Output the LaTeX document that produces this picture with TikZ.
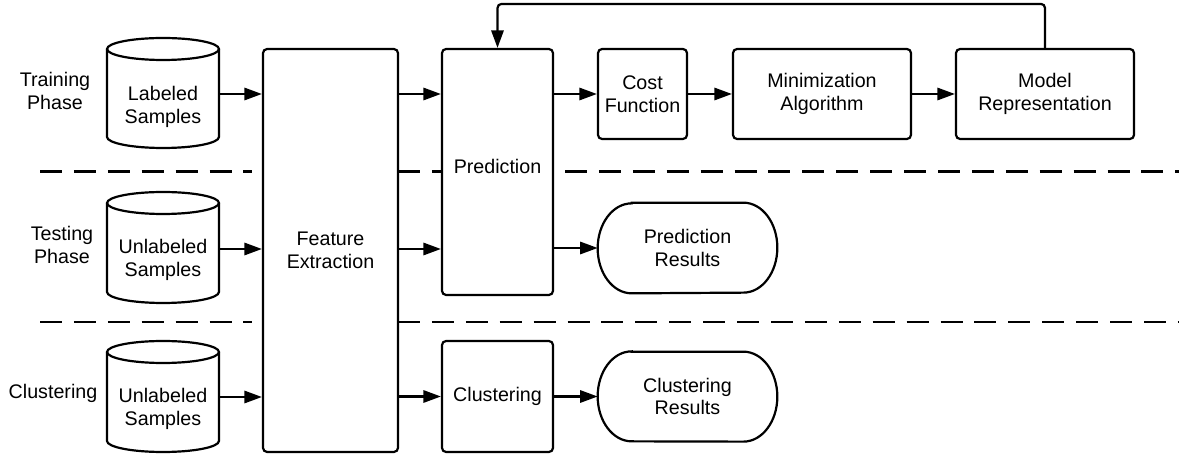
\documentclass[tikz,border=0pt]{standalone}
\usepackage{fontspec}
\setmainfont{Liberation Sans}
\usetikzlibrary{arrows.meta}
\newcommand\mycyl[3]{%
  \draw[line] (#1-56,#2+11) -- (#1-56,#3-11)
    arc[start angle=180,end angle=360,x radius=1.12cm,y radius=0.22cm] -- (#1+56,#2+11);
  \draw[line] (#1,#2+11) ellipse[x radius=1.12cm,y radius=0.22cm];}
\newcommand\mystadium[1]{%
  \draw[line] ([xshift=0.68cm]#1.north west) -- ([xshift=-0.68cm]#1.north east)
    arc[start angle=90,end angle=-90,x radius=0.68cm,y radius=0.9cm]
    -- ([xshift=0.68cm]#1.south west)
    arc[start angle=270,end angle=90,x radius=0.68cm,y radius=0.9cm] -- cycle;}
\begin{document}
\begin{tikzpicture}[x=0.02cm,y=-0.02cm,
  line/.style={line width=1.25pt},
  arr/.style={line width=1.25pt,-{Triangle[length=10pt,width=7pt]}},
  lbl/.style={font=\fontsize{11.2}{13}\selectfont, align=center, inner sep=0pt},
  box/.style={lbl, draw, line width=1.25pt, rounded corners=2.3pt},
  ghost/.style={lbl, draw=none},
  dsh/.style={line width=1.25pt, dash pattern=on 12.5pt off 6.8pt}
]
\useasboundingbox (0,0) rectangle (1179,455);

% phase labels
\node[lbl] (lt) at (55,91) {Training\\Phase};
\node[lbl] (lte) at (62,245) {Testing\\Phase};
\node[lbl] (lc) at (53,393) {Clustering};

% cylinders
\mycyl{163}{38}{148}
\mycyl{163}{192}{303}
\mycyl{163}{341}{452}
\node[ghost, minimum width=2.24cm, minimum height=2.2cm] (c1) at (163,94) {};
\node[ghost, minimum width=2.24cm, minimum height=2.2cm] (c2) at (163,249) {};
\node[ghost, minimum width=2.24cm, minimum height=2.2cm] (c3) at (163,397) {};
\node[lbl] (c1t) at (163,106.5) {Labeled\\Samples};
\node[lbl] (c2t) at (163,260) {Unlabeled\\Samples};
\node[lbl] (c3t) at (163,408.5) {Unlabeled\\Samples};

% main boxes
\node[box, minimum width=2.7cm, minimum height=8.06cm] (fe) at (330.5,250.5) {Feature\\Extraction};
\node[box, minimum width=2.22cm, minimum height=4.92cm] (pr) at (497.5,172) {};
\node[lbl] (prt) at (497.5,166) {Prediction};
\node[box, minimum width=1.78cm, minimum height=1.8cm] (cf) at (642.5,94) {Cost\\Function};
\node[box, minimum width=3.56cm, minimum height=1.8cm] (ma) at (822,94) {Minimization\\Algorithm};
\node[box, minimum width=3.56cm, minimum height=1.8cm] (mr) at (1045,94) {Model\\Representation};
\node[box, minimum width=2.22cm, minimum height=2.22cm] (cl) at (497.5,396.5) {Clustering};
\node[ghost, minimum width=3.58cm, minimum height=1.8cm] (prs) at (687.5,248) {Prediction\\Results};
\node[ghost, minimum width=3.58cm, minimum height=1.78cm] (cls) at (687.5,396.5) {Clustering\\Results};
\mystadium{prs}
\mystadium{cls}

% dashed separators
\draw[dsh] (40,171.5) -- (252,171.5);
\draw[dsh] (398,171.5) -- (442,171.5);
\draw[dsh] (565,171.5) -- (1179,171.5);
\draw[dsh] (40,322) -- (252,322);
\draw[dsh] (398,322) -- (1179,322);

% arrows
\draw[arr] (c1.east) -- (c1.east -| fe.west);
\draw[arr] (c2.east) -- (c2.east -| fe.west);
\draw[arr] (c3.east) -- (c3.east -| fe.west);
\draw[arr] (fe.east |- cf.west) -- (pr.west |- cf.west);
\draw[arr] (fe.east |- c2.east) -- (pr.west |- c2.east);
\draw[arr] (fe.east |- cl.west) -- (cl.west);
\draw[arr] (pr.east |- cf.west) -- (cf.west);
\draw[arr] (cf.east) -- (ma.west);
\draw[arr] (ma.east) -- (mr.west);
\draw[arr] (pr.east |- prs.west) -- (prs.west);
\draw[arr] (cl.east) -- (cls.west);
\draw[arr, rounded corners=2.3pt] (mr.north) -- ++(0,-44) -| (pr.north);
\end{tikzpicture}
\end{document}
